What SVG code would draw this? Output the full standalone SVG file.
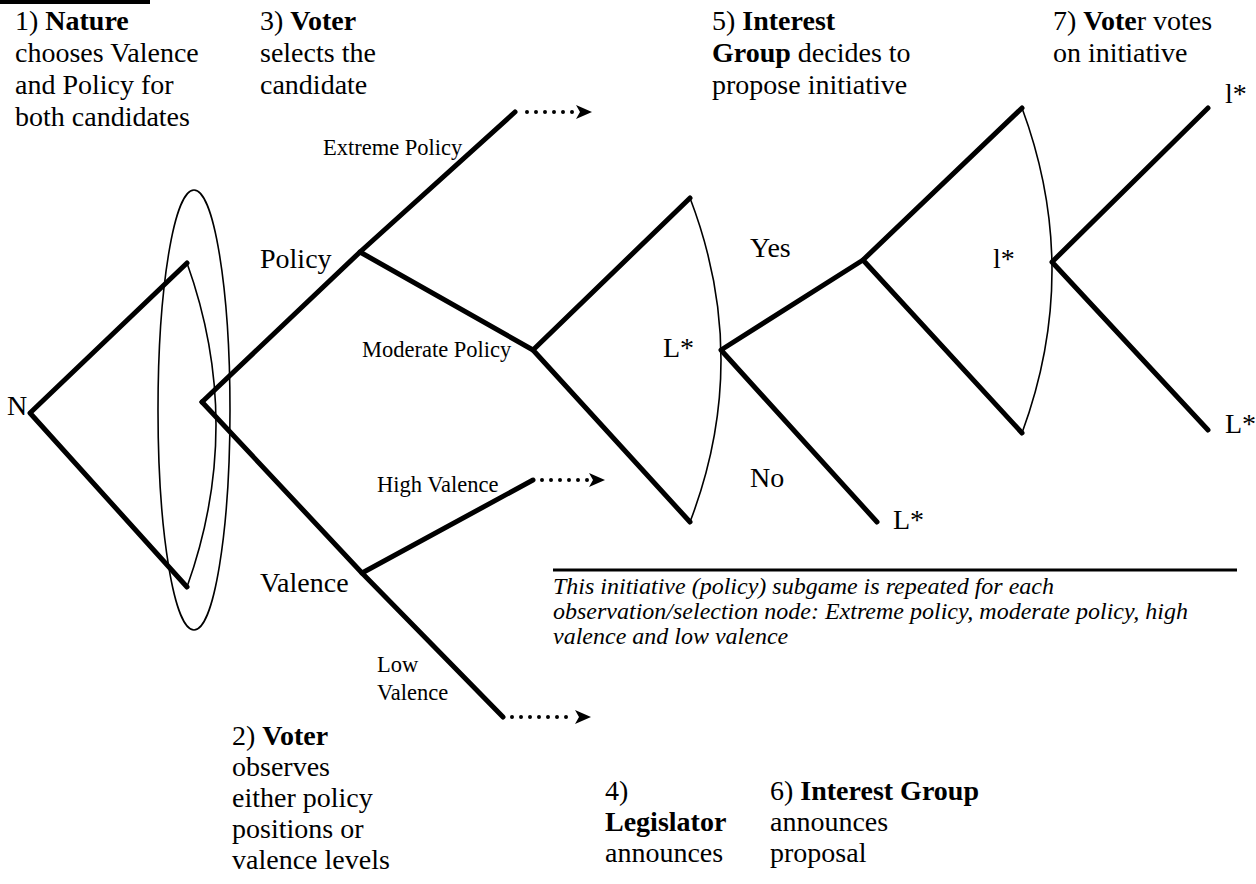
<svg xmlns="http://www.w3.org/2000/svg" width="1256" height="884" viewBox="0 0 1256 884">
<style>
text{font-family:"Liberation Serif","Times New Roman",serif;fill:#000}
.big{font-size:28px}
.sm{font-size:22.5px}
.note{font-size:24px;font-style:italic}
.b{font-weight:bold}
.thick{stroke:#000;stroke-width:5;fill:none;stroke-linecap:round;stroke-linejoin:round}
.thin{stroke:#000;stroke-width:1.6;fill:none}
.dots{stroke:#000;stroke-width:4;stroke-linecap:round;stroke-dasharray:0 9;fill:none}
</style>
<defs>
<marker id="ah" markerUnits="userSpaceOnUse" markerWidth="18" markerHeight="16" refX="16" refY="8" orient="auto" viewBox="0 0 18 16">
<path d="M1,1 L17,8 L1,15 L5,8 Z" fill="#000"/>
</marker>
</defs>
<rect x="0" y="0" width="150" height="4" fill="#000"/>
<g id="connectors">
<path class="thick" d="M30,413 L187,263 M30,413 L187,587"/>
<path class="thick" d="M202,402 L360,252 L515,112"/>
<path class="thick" d="M202,402 L362,573 L503,717"/>
<path class="thick" d="M360,252 L533,350"/>
<path class="thick" d="M362,573 L533,480"/>
<path class="thick" d="M533,350 L690,198 M533,350 L690,522"/>
<path class="thick" d="M721,350 L863,260 M721,350 L877,522"/>
<path class="thick" d="M863,260 L1022,108 M863,260 L1022,433"/>
<path class="thick" d="M1052,262 L1208,108 M1052,262 L1208,430"/>
<path class="thin" d="M187,263 Q245,425 187,587"/>
<ellipse class="thin" cx="194" cy="410" rx="36" ry="220"/>
<path class="thin" d="M690,198 Q752,360 690,522"/>
<path class="thin" d="M1022,108 Q1082,270 1022,433"/>
<path class="dots" d="M527,112 L573,112"/>
<line x1="573" y1="112" x2="591" y2="112" stroke="none" marker-end="url(#ah)"/>
<path class="dots" d="M542,480 L588,480"/>
<line x1="588" y1="480" x2="604" y2="480" stroke="none" marker-end="url(#ah)"/>
<path class="dots" d="M512,717 L567,717"/>
<line x1="567" y1="717" x2="590" y2="717" stroke="none" marker-end="url(#ah)"/>
<line x1="553" y1="570" x2="1237" y2="570" stroke="#000" stroke-width="3"/>
</g>
<g id="step1"><text class="big" x="15" y="30">1) <tspan class="b">Nature</tspan></text><text class="big" x="15" y="62">chooses Valence</text><text class="big" x="15" y="94">and Policy for</text><text class="big" x="15" y="126">both candidates</text></g>
<g id="step3"><text class="big" x="260" y="30">3) <tspan class="b">Voter</tspan></text><text class="big" x="260" y="62">selects the</text><text class="big" x="260" y="94">candidate</text></g>
<g id="step5"><text class="big" x="712" y="30">5) <tspan class="b">Interest</tspan></text><text class="big" x="712" y="62"><tspan class="b">Group</tspan> decides to</text><text class="big" x="712" y="94">propose initiative</text></g>
<g id="step7"><text class="big" x="1053" y="30">7) <tspan class="b">Vote</tspan>r votes</text><text class="big" x="1053" y="62">on initiative</text></g>
<g id="step2"><text class="big" x="232" y="745">2) <tspan class="b">Voter</tspan></text><text class="big" x="232" y="776">observes</text><text class="big" x="232" y="807">either policy</text><text class="big" x="232" y="838">positions or</text><text class="big" x="232" y="869">valence levels</text></g>
<g id="step4"><text class="big" x="605" y="800">4)</text><text class="big b" x="605" y="831">Legislator</text><text class="big" x="605" y="862">announces</text></g>
<g id="step6"><text class="big" x="770" y="800">6) <tspan class="b">Interest Group</tspan></text><text class="big" x="770" y="831">announces</text><text class="big" x="770" y="862">proposal</text></g>
<g id="node-N"><text class="big" x="7" y="415">N</text></g>
<g id="node-policy"><text class="big" x="260" y="268">Policy</text></g>
<g id="node-valence"><text class="big" x="260" y="592">Valence</text></g>
<g id="lbl-extreme"><text class="sm" x="323" y="155">Extreme Policy</text></g>
<g id="lbl-moderate"><text class="sm" x="362" y="357">Moderate Policy</text></g>
<g id="lbl-high"><text class="sm" x="377" y="492">High Valence</text></g>
<g id="lbl-low"><text class="sm" x="377" y="672">Low</text><text class="sm" x="377" y="700">Valence</text></g>
<g id="node-L1"><text class="big" x="663" y="357">L*</text></g>
<g id="lbl-yes"><text class="big" x="750" y="257">Yes</text></g>
<g id="lbl-no"><text class="big" x="750" y="487">No</text></g>
<g id="node-L2"><text class="big" x="893" y="529">L*</text></g>
<g id="node-l1"><text class="big" x="993" y="268">l*</text></g>
<g id="node-l2"><text class="big" x="1225" y="103">l*</text></g>
<g id="node-L3"><text class="big" x="1225" y="433">L*</text></g>
<g id="note"><text class="note" x="553" y="594">This initiative (policy) subgame is repeated for each</text><text class="note" x="553" y="619">observation/selection node: Extreme policy, moderate policy, high</text><text class="note" x="553" y="644">valence and low valence</text></g>
</svg>
